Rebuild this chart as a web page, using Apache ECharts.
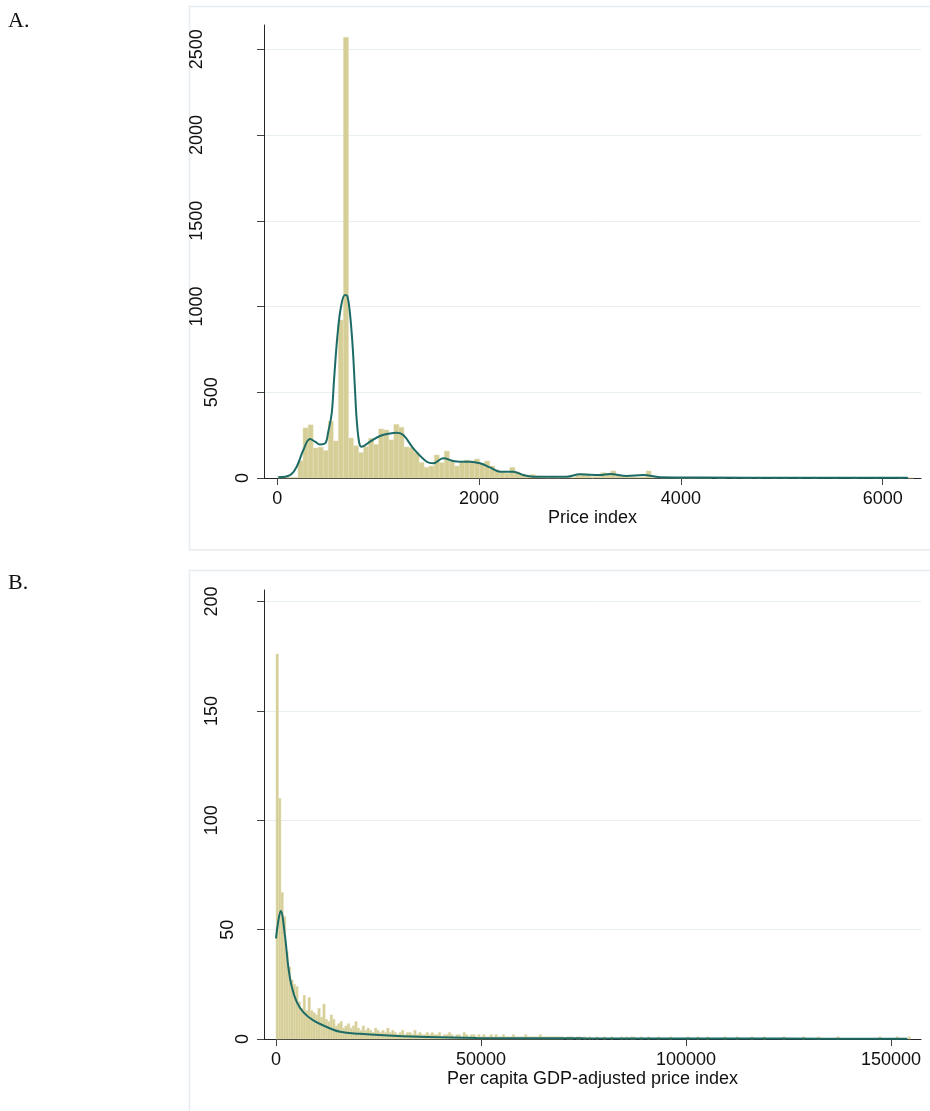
<!DOCTYPE html>
<html><head><meta charset="utf-8">
<script src="https://cdn.jsdelivr.net/npm/echarts/dist/echarts.min.js"></script>
<style>html,body{margin:0;padding:0;background:#fff}#c{width:930px;height:1111px}</style>
</head><body><div id="c"></div>
<script>
// ---------- Panel A data ----------
const A_BIN_START = 5;
const A_BIN_WIDTH = 50;
const A_COUNTS = [
  10, 8, 4, 3, 100, 292, 310, 175, 180, 160,
  332, 216, 921, 2570, 233, 188, 148, 183, 231, 196,
  286, 280, 222, 313, 296, 181, 179, 150, 90, 62,
  70, 134, 89, 157, 99, 70, 89, 105, 100, 111,
  86, 99, 70, 47, 31, 27, 62, 35, 23, 17,
  20, 12, 3, 2, 3, 2, 3, 4, 3, 15,
  25, 22, 8, 10, 31, 28, 41, 15, 8, 5,
  6, 4, 6, 41, 4, 3, 2, 3, 2, 1,
  2, 1, 1, 2, 1, 1, 0, 1, 1, 0,
  1, 0, 1, 1, 0, 1, 0, 0, 1, 0,
  1, 0, 0, 1, 0, 0, 1, 0, 0, 0,
  1, 0, 0, 0, 1, 0, 0, 0, 1, 0,
  0, 0, 0, 1, 0, 1
];
const A_KDE_X = [10, 126, 192, 258, 324, 374, 423, 473, 505, 539, 562, 595, 631, 671, 694, 720, 747, 770, 787, 813, 836, 919, 1018, 1117, 1183, 1249, 1348, 1481, 1546, 1645, 1744, 1811, 1910, 2009, 2108, 2207, 2339, 2438, 2537, 2868, 3000, 3198, 3297, 3463, 3627, 3793, 4190, 5180, 6250];
const A_KDE_Y = [5, 17, 66, 163, 227, 212, 196, 202, 270, 377, 571, 824, 999, 1067, 1061, 960, 765, 513, 338, 202, 182, 212, 245, 260, 264, 251, 173, 95, 86, 115, 99, 95, 95, 86, 62, 37, 37, 17, 8, 8, 22, 17, 23, 12, 17, 5, 3, 2, 2];
const A_XTICKS = [0, 2000, 4000, 6000];
const A_YTICKS = [0, 500, 1000, 1500, 2000, 2500];
const A_XTITLE = 'Price index';

// ---------- Panel B data ----------
const B_BIN_START = 0;
const B_BIN_WIDTH = 600;
const B_COUNTS = [
  176, 110, 67, 56, 40, 33, 27, 25, 24, 17,
  14, 20, 13, 19, 13, 12, 11, 14, 10, 16,
  9, 8, 11, 9, 6, 7, 8, 5, 6, 7,
  5, 6, 8, 5, 4, 6, 4, 5, 4, 3,
  5, 4, 3, 4, 3, 5, 3, 4, 3, 2,
  3, 4, 2, 3, 3, 2, 4, 2, 3, 2,
  2, 3, 2, 3, 2, 2, 3, 1, 2, 2,
  3, 2, 1, 2, 2, 1, 3, 2, 1, 2,
  2, 1, 2, 1, 2, 1, 1, 2, 1, 2,
  1, 1, 2, 1, 1, 1, 2, 1, 1, 1,
  1, 2, 1, 1, 1, 1, 1, 2, 1, 1,
  1, 1, 1, 1, 1, 1, 1, 0, 1, 1,
  1, 0, 1, 1, 0, 1, 0, 1, 0, 0,
  1, 0, 0, 1, 0, 0, 1, 0, 0, 0,
  1, 0, 1, 0, 1, 1, 0, 0, 1, 0,
  0, 1, 0, 0, 0, 1, 0, 0, 0, 0,
  1, 0, 0, 0, 0, 0, 0, 1, 0, 0,
  0, 1, 0, 0, 0, 1, 0, 0, 0, 0,
  0, 0, 1, 0, 0, 0, 0, 1, 0, 0,
  0, 0, 0, 1, 0, 0, 0, 0, 1, 0,
  0, 0, 0, 0, 0, 0, 1, 0, 0, 0,
  0, 0, 0, 0, 1, 0, 0, 0, 0, 0,
  1, 0, 0, 0, 0, 0, 0, 0, 1, 0,
  0, 0, 0, 0, 0, 0, 0, 0, 0, 0,
  0, 0, 0, 0, 0, 1, 0, 0, 0, 0,
  0, 0, 1, 0, 0, 0, 0, 1
];
const B_KDE_X = [0, 561, 1146, 2195, 3000, 3829, 5049, 6658, 9097, 12366, 15610, 20488, 28610, 36756, 48951, 75000, 123800, 154000];
const B_KDE_Y = [46, 54, 58.5, 47, 33, 24, 17, 12.3, 8.5, 5.5, 3.3, 2.4, 1.5, 0.9, 0.5, 0.3, 0.2, 0.1];
const B_XTICKS = [0, 50000, 100000, 150000];
const B_YTICKS = [0, 50, 100, 150, 200];
const B_XTITLE = 'Per capita GDP-adjusted price index';

// ---------- styles ----------
const BAR_FILL = '#d5ce96';
const BAR_EDGE = '#e2dcb4';
const KDE_COLOR = '#1d6b66';
const AXIS_COLOR = '#262626';
const GRID_COLOR = '#e8eff1';
const FONT = '"Liberation Sans", Arial, sans-serif';

function binData(start, width, counts) {
  return counts.map((c, i) => [start + i * width, start + (i + 1) * width, c]);
}
function pairs(xs, ys) { return xs.map((x, i) => [x, ys[i]]); }

function histItem(params, api) {
  const x0 = api.value(0), x1 = api.value(1), y = api.value(2);
  if (!y) return null;
  const p0 = api.coord([x0, y]);
  const p1 = api.coord([x1, 0]);
  return {
    type: 'rect',
    shape: { x: p0[0], y: p0[1], width: p1[0] - p0[0], height: p1[1] - p0[1] },
    style: { fill: BAR_FILL, stroke: BAR_EDGE, lineWidth: 0.5 }
  };
}

const labelText = { fontFamily: FONT, fontSize: 18, color: '#111' };

function xAxisCfg(gridIndex, min, max, ticks, title) {
  return {
    type: 'value', gridIndex, min, max,
    name: title, nameLocation: 'middle', nameGap: 31,
    nameTextStyle: labelText,
    axisLine: { show: true, onZero: false, lineStyle: { color: AXIS_COLOR, width: 1 } },
    axisTick: { show: true, length: 7, customValues: ticks, lineStyle: { color: '#444' } },
    axisLabel: Object.assign({ customValues: ticks, margin: 12, formatter: v => String(v) }, labelText),
    splitLine: { show: false }
  };
}
function yAxisCfg(gridIndex, min, max, ticks) {
  const pad = n => Object.assign({ padding: [0, 0, (n - 1) * 15.3, 0] }, labelText);
  return {
    type: 'value', gridIndex, min, max,
    axisLine: { show: true, onZero: false, lineStyle: { color: AXIS_COLOR, width: 1 } },
    axisTick: { show: true, length: 7, customValues: ticks, lineStyle: { color: '#444' } },
    axisLabel: Object.assign({
      customValues: ticks, rotate: 90, margin: 12,
      formatter: v => '{p' + String(v).length + '|' + v + '}',
      rich: { p1: pad(1), p2: pad(2), p3: pad(3), p4: pad(4) }
    }, labelText),
    splitLine: { show: true, lineStyle: { color: GRID_COLOR, width: 1 } }
  };
}

const chart = echarts.init(document.getElementById('c'), null, { renderer: 'canvas' });
chart.setOption({
  animation: false,
  backgroundColor: '#fff',
  graphic: [
    { type: 'rect', shape: { x: 189.5, y: 6.5, width: 800, height: 543.5 }, style: { fill: 'none', stroke: '#e6ecef', lineWidth: 1.5 }, z: -1 },
    { type: 'rect', shape: { x: 189.5, y: 570.5, width: 800, height: 600 }, style: { fill: 'none', stroke: '#e6ecef', lineWidth: 1.5 }, z: -1 },
    { type: 'text', left: 8, top: 10, style: { text: 'A.', font: '22px "Liberation Serif", "Times New Roman", serif', fill: '#111' } },
    { type: 'text', left: 8, top: 572, style: { text: 'B.', font: '22px "Liberation Serif", "Times New Roman", serif', fill: '#111' } }
  ],
  grid: [
    { left: 264, top: 25, right: 9, bottom: 633 },
    { left: 264, top: 590, right: 9, bottom: 72 }
  ],
  xAxis: [
    xAxisCfg(0, -132, 6380, A_XTICKS, A_XTITLE),
    xAxisCfg(1, -2927, 157316, B_XTICKS, B_XTITLE)
  ],
  yAxis: [
    yAxisCfg(0, 0, 2642, A_YTICKS),
    yAxisCfg(1, 0, 205.3, B_YTICKS)
  ],
  series: [
    { type: 'custom', xAxisIndex: 0, yAxisIndex: 0, renderItem: histItem, encode: { x: [0, 1], y: 2 }, data: binData(A_BIN_START, A_BIN_WIDTH, A_COUNTS), z: 2 },
    { type: 'line', xAxisIndex: 0, yAxisIndex: 0, data: pairs(A_KDE_X, A_KDE_Y), smooth: 0.4, showSymbol: false, lineStyle: { color: KDE_COLOR, width: 2 }, z: 3 },
    { type: 'custom', xAxisIndex: 1, yAxisIndex: 1, renderItem: histItem, encode: { x: [0, 1], y: 2 }, data: binData(B_BIN_START, B_BIN_WIDTH, B_COUNTS), z: 2 },
    { type: 'line', xAxisIndex: 1, yAxisIndex: 1, data: pairs(B_KDE_X, B_KDE_Y), smooth: 0.4, showSymbol: false, lineStyle: { color: KDE_COLOR, width: 2 }, z: 3 }
  ]
});
</script>
</body></html>
